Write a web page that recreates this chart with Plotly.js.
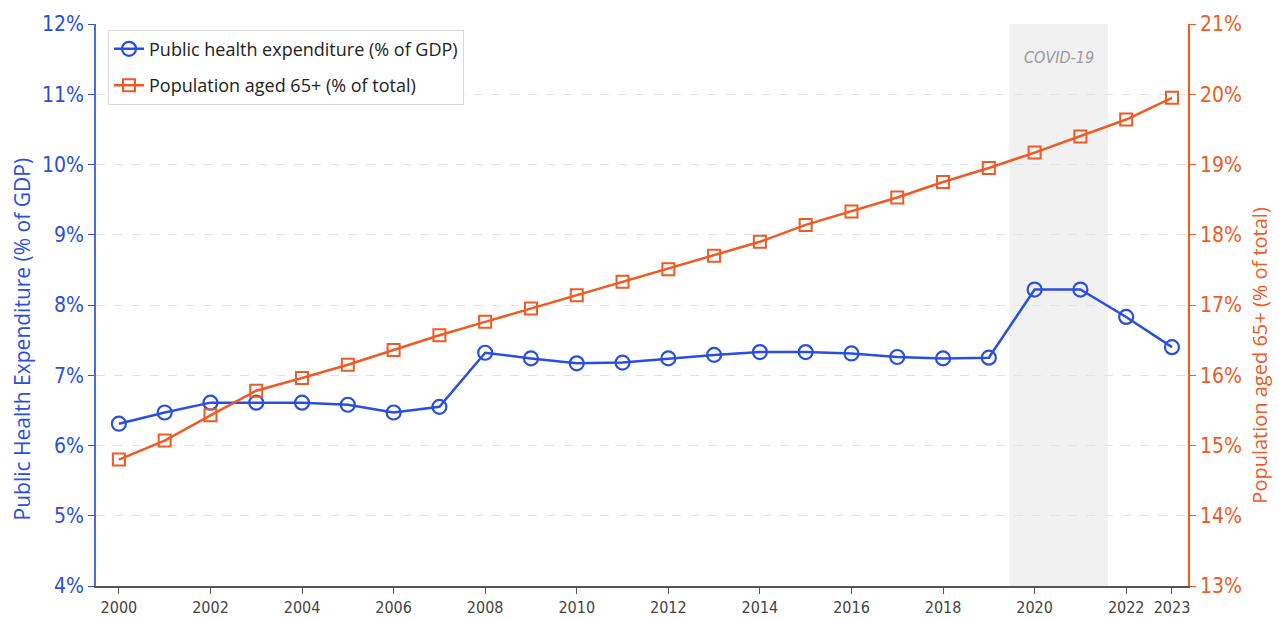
<!DOCTYPE html>
<html>
<head>
<meta charset="utf-8">
<script src="https://cdn.plot.ly/plotly-3.0.1.min.js"></script>
<style>html,body{margin:0;padding:0;background:#fff;}#chart{width:1279px;height:619px;}</style>
</head>
<body>
<div id="chart"></div>
<script>
const years = [2000,2001,2002,2003,2004,2005,2006,2007,2008,2009,2010,2011,2012,2013,2014,2015,2016,2017,2018,2019,2020,2021,2022,2023];
const healthExp = [6.31,6.47,6.61,6.61,6.61,6.58,6.47,6.55,7.32,7.24,7.17,7.18,7.24,7.29,7.33,7.33,7.31,7.26,7.24,7.25,8.22,8.22,7.83,7.40];
const pop65 = [14.80,15.07,15.43,15.78,15.96,16.15,16.36,16.57,16.76,16.95,17.14,17.33,17.51,17.70,17.90,18.14,18.33,18.53,18.75,18.95,19.17,19.40,19.64,19.95];
const xTicks = [2000,2002,2004,2006,2008,2010,2012,2014,2016,2018,2020,2022,2023];
const covidStart = 2019.45, covidEnd = 2021.6;

const blue = '#2a4ee0';
const orange = '#f05a24';
const font = 'Open Sans, Noto Sans, sans-serif';
const condensed = 'Liberation Sans Narrow, DejaVu Sans Condensed, sans-serif';

const traces = [
  {x: years, y: healthExp, name: 'Public health expenditure (% of GDP)', type: 'scatter', mode: 'lines+markers', legendgroup: 'a',
   line: {color: blue, width: 2.5}, marker: {symbol: 'circle-open', size: 14, color: blue, line: {width: 2.2, color: blue}}, yaxis: 'y'},
  {x: years, y: pop65, name: 'Population aged 65+ (% of total)', type: 'scatter', mode: 'lines+markers', legendgroup: 'b',
   line: {color: orange, width: 2.5}, marker: {symbol: 'square-open', size: 12, color: orange, line: {width: 2, color: orange}}, yaxis: 'y2'}
];

const layout = {
  width: 1279, height: 619,
  margin: {l: 96, r: 91, t: 24, b: 33},
  paper_bgcolor: '#ffffff', plot_bgcolor: '#ffffff',
  font: {family: font},
  showlegend: true,
  legend: {x: 0.011, y: 0.99, xanchor: 'left', yanchor: 'top', bgcolor: '#ffffff', bordercolor: '#d8d8d8', borderwidth: 1,
           font: {family: font, size: 18, color: '#222'}, tracegroupgap: 10},
  xaxis: {range: [1999.5, 2023.35], tickvals: xTicks, ticktext: xTicks.map(String), showgrid: false, zeroline: false,
          showline: true, linecolor: '#555', linewidth: 2, ticks: 'outside', ticklen: 6, tickcolor: '#555',
          tickfont: {family: condensed, size: 16, color: '#444'}},
  yaxis: {range: [4, 12], dtick: 1, ticksuffix: '%', showline: true, linecolor: '#4a6be0', linewidth: 1.5,
          ticks: 'outside', ticklen: 6, tickcolor: blue, zeroline: false,
          gridcolor: '#e2e2e2', griddash: 'dash', gridwidth: 1,
          tickfont: {family: condensed, size: 21, color: blue}},
  yaxis2: {range: [13, 21], dtick: 1, ticksuffix: '%', overlaying: 'y', side: 'right', showline: true, linecolor: orange, linewidth: 1.5,
           ticks: 'outside', ticklen: 6, tickcolor: orange, showgrid: false, zeroline: false,
           tickfont: {family: condensed, size: 21, color: orange}},
  shapes: [{type: 'rect', xref: 'x', yref: 'paper', x0: covidStart, x1: covidEnd, y0: 0, y1: 1,
            fillcolor: '#f1f1f1', opacity: 1, line: {width: 0}, layer: 'below'}],
  annotations: [
    {x: (covidStart + covidEnd) / 2, y: 0.96, xref: 'x', yref: 'paper', text: '<i>COVID-19</i>', showarrow: false,
     font: {family: condensed, size: 16, color: '#9a9a9a'}},
    {x: -0.068, y: 0.44, xref: 'paper', yref: 'paper', text: 'Public Health Expenditure (% of GDP)', showarrow: false,
     textangle: -90, xanchor: 'center', yanchor: 'middle', font: {family: font, size: 21, color: blue}},
    {x: 1.066, y: 0.41, xref: 'paper', yref: 'paper', text: 'Population aged 65+ (% of total)', showarrow: false,
     textangle: -90, xanchor: 'center', yanchor: 'middle', font: {family: font, size: 20, color: orange}}
  ]
};

Plotly.newPlot('chart', traces, layout, {displayModeBar: false});
</script>
</body>
</html>
